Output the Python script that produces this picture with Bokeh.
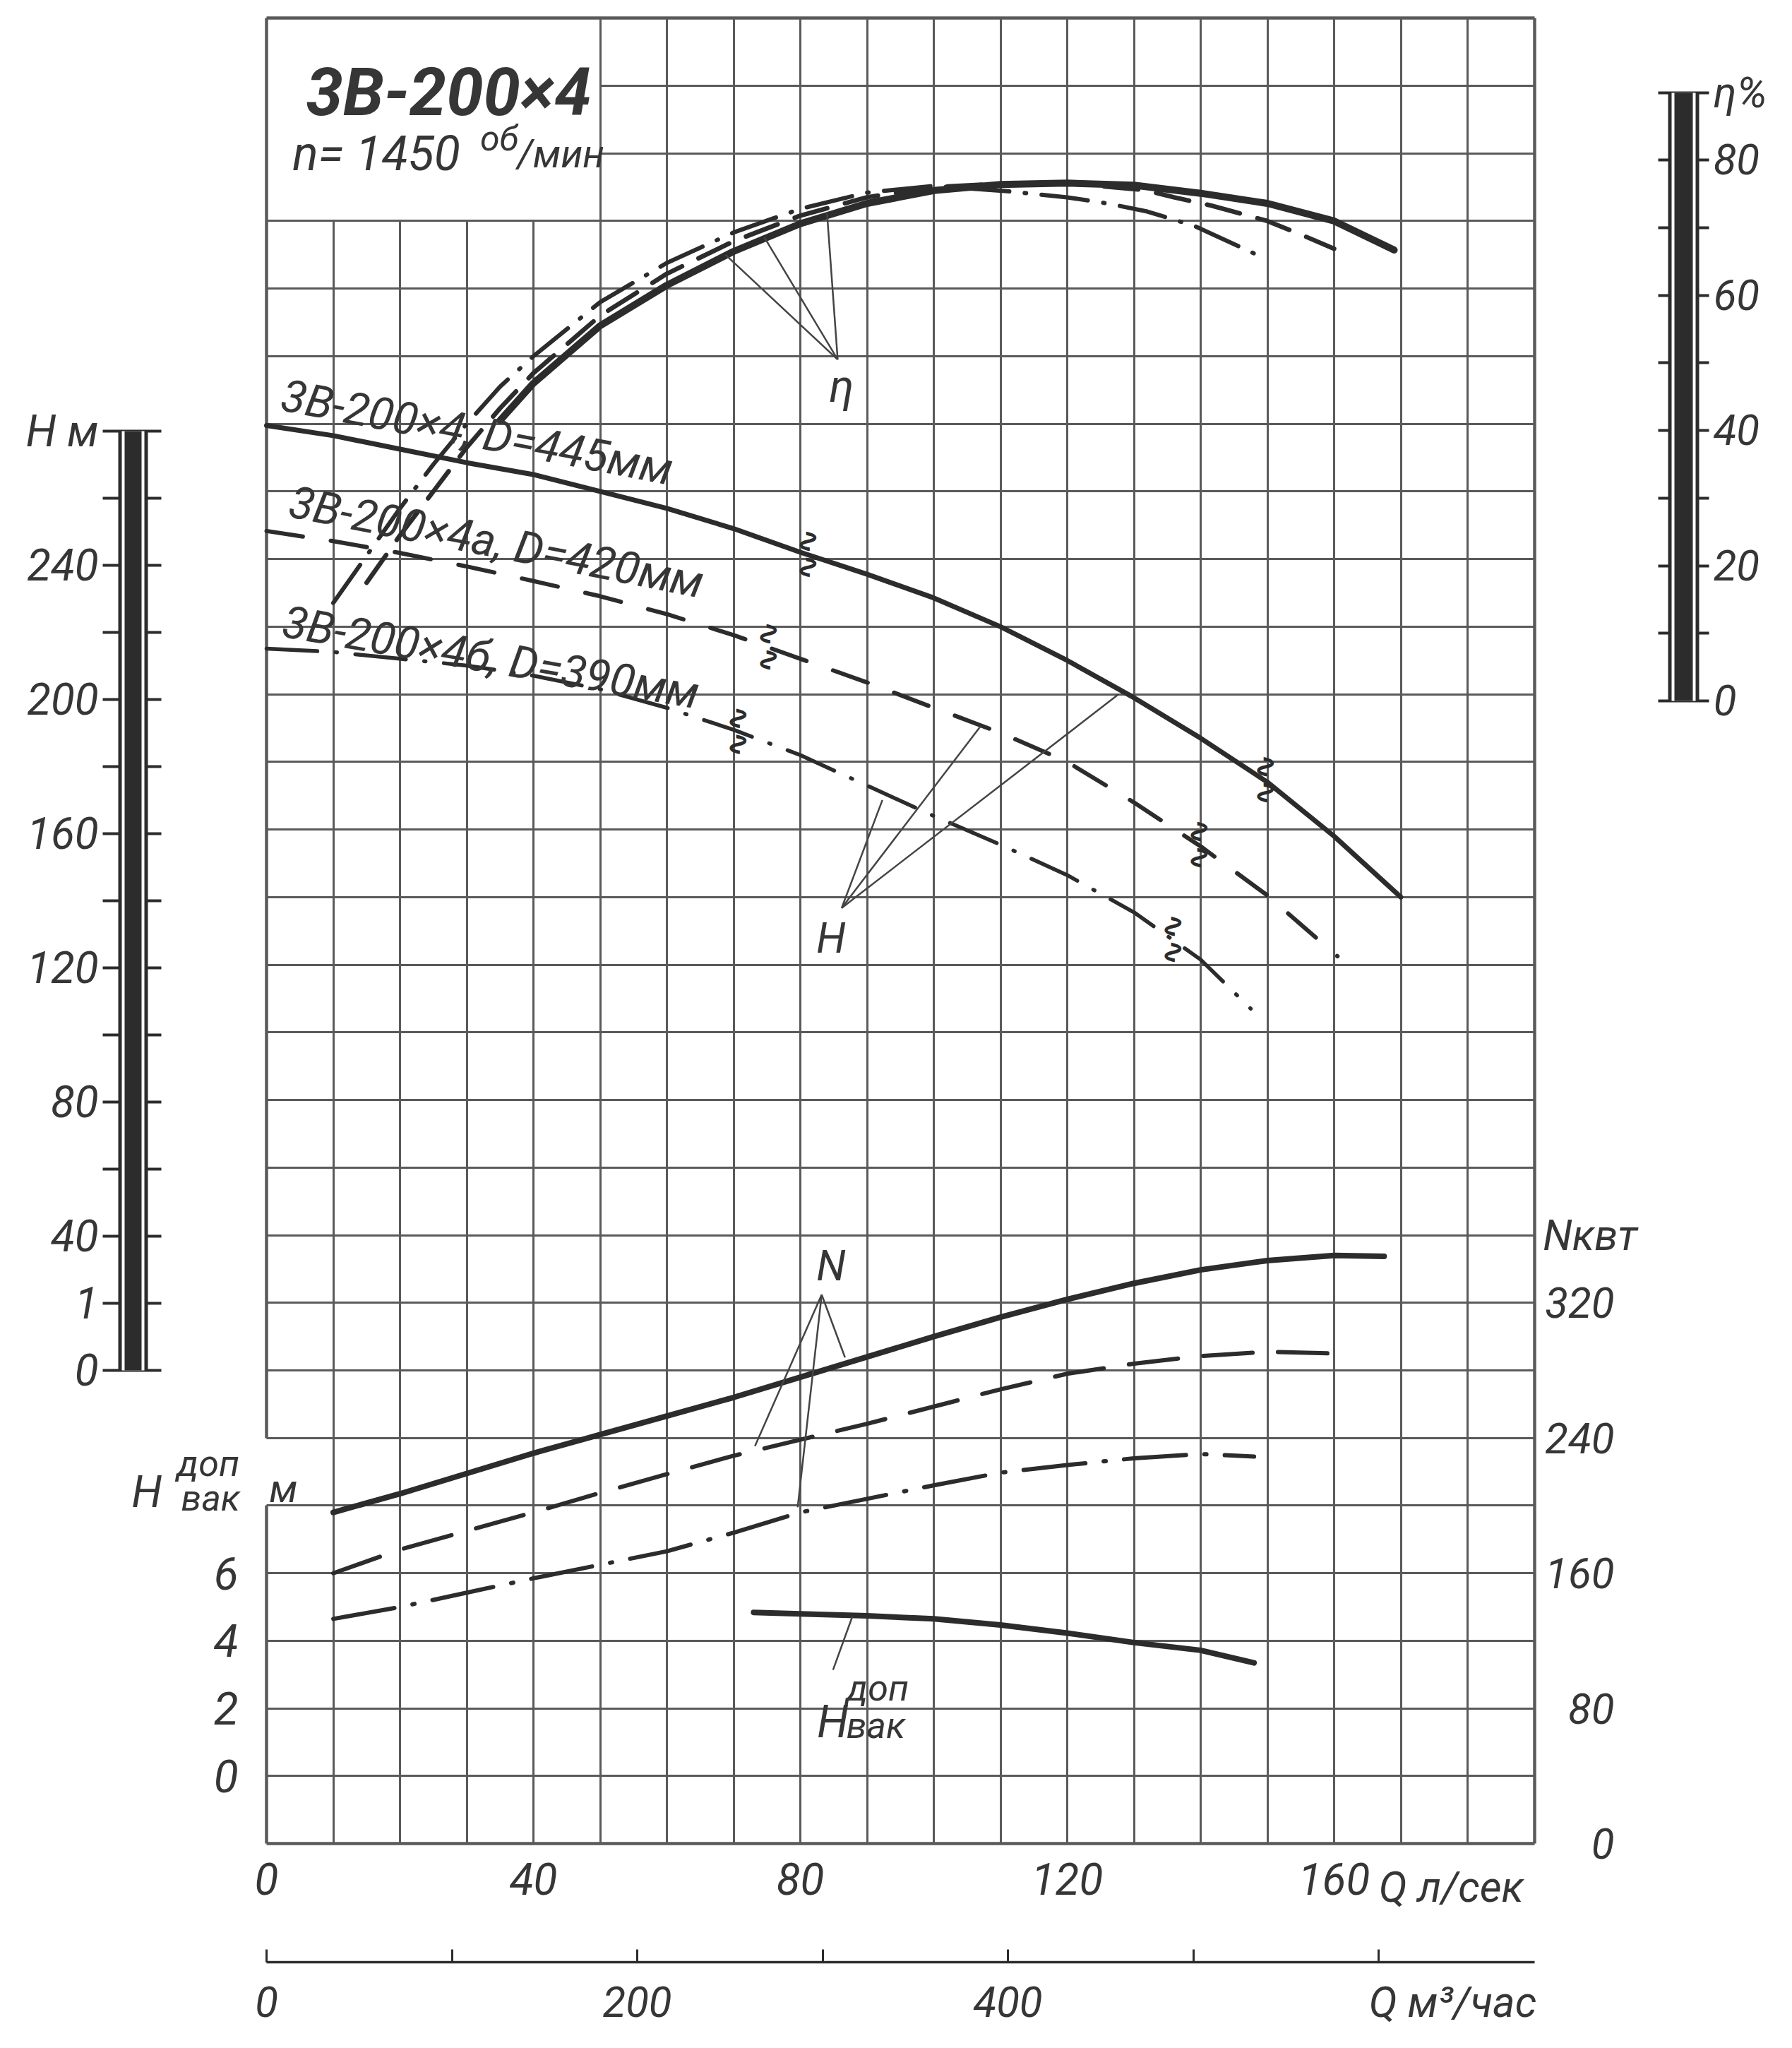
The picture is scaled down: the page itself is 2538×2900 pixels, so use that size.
import math
from bokeh.plotting import figure
from bokeh.models import Range1d, LinearAxis, FixedTicker, Grid
from bokeh.core.properties import value
from bokeh.embed import file_html
from bokeh.resources import INLINE

# ---------------- data ----------------
# Head H (m) vs Q (l/s) for three impellers
Q_H445 = [0, 10, 20, 30, 40, 50, 60, 70, 80, 90, 100, 110, 120, 130, 140, 150, 160, 170]
H_445 = [279.5, 276.5, 272.5, 268.5, 265, 260, 255, 249, 242, 235.5, 228.5, 220, 210, 199, 187, 174, 158, 140]
Q_H420 = [0, 10, 20, 30, 40, 50, 60, 70, 80, 90, 100, 110, 120, 130, 140, 150, 160.5]
H_420 = [248.3, 245.3, 241.8, 237.8, 233.5, 229, 223.7, 217.5, 210.5, 203.5, 196, 188.6, 180, 168, 155, 140.5, 122.5]
Q_H390 = [0, 10, 20, 30, 40, 50, 60, 70, 80, 90, 100, 110, 120, 130, 140, 147.5]
H_390 = [213.5, 212.5, 210.5, 208.5, 205.5, 201.5, 196, 189.5, 182, 173, 164, 155.5, 146.5, 135.5, 121.5, 107]

# Efficiency eta (%)
Q_E445 = [35, 40, 50, 60, 70, 80, 90, 100, 110, 120, 130, 140, 150, 160, 169]
E_445 = [41.5, 47, 55.5, 61.5, 66.5, 70.6, 73.6, 75.5, 76.4, 76.6, 76.3, 75.1, 73.6, 71.0, 66.7]
Q_E420 = [15, 20, 25, 30, 35, 40, 50, 60, 70, 80, 90, 100, 110, 120, 131.5, 136, 141.5, 150, 155, 160]
E_420 = [17.5, 24.5, 31, 37.5, 43.3, 48.5, 57, 63.2, 68, 71.8, 74.5, 76, 76.5, 76.6, 75.6, 74.5, 73.3, 71, 69, 66.9]
Q_E390 = [10, 15, 20, 25, 30, 35, 40, 50, 60, 70, 80, 90, 100, 111, 120, 126, 132, 139, 148]
E_390 = [14.5, 21.5, 28.5, 35, 41, 46.5, 51, 59, 64.8, 69.3, 72.8, 75.2, 76.2, 75.4, 74.5, 73.6, 72.4, 70.3, 66.2]

# Power N (kW)
Q_N445 = [10, 20, 30, 40, 50, 60, 70, 80, 90, 100, 110, 120, 130, 140, 150, 160, 167.5]
N_445 = [196, 207, 219, 231, 242, 253, 264, 276, 288, 300, 311.5, 322, 331.5, 339.5, 345, 348, 347.5]
Q_N420 = [10, 20, 30, 40, 50, 60, 70, 80, 90, 100, 110, 120, 130, 140, 150, 160]
N_420 = [160, 174, 185, 196, 207.5, 218.6, 229.5, 239, 248.4, 258.6, 268.8, 278, 284, 288.5, 291, 290]
Q_N390 = [10, 20, 30, 40, 50, 60, 70, 80, 90, 100, 110, 120, 130, 140, 148]
N_390 = [133, 140, 148.5, 157, 165, 173, 184, 196, 204, 212, 219.5, 224, 228, 230.5, 229]

# Allowable suction lift H_vak (m)
Q_HV = [73, 80, 90, 100, 110, 120, 130, 140, 148]
HV = [4.84, 4.8, 4.74, 4.65, 4.47, 4.23, 3.95, 3.72, 3.35]

# operating-range marks on the H curves (Q, H)
SQ_Q = [80.9, 149.5, 75.0, 139.6, 70.5, 135.7]
SQ_H = [241.4, 174.7, 214.0, 155.5, 189.0, 127.5]

# leader lines: apex and targets
ETA_APEX = (85.6, 50.5)
ETA_END_Q = [68.8, 74.6, 84.0]
ETA_END = [66.0, 68.6, 72.2]
H_APEX = (86.2, 136.8)
H_END_Q = [127.7, 107.0, 92.3]
H_END = [200.0, 190.5, 168.7]
N_APEX = (83.2, 324.8)
N_END_Q = [86.7, 73.2, 79.6]
N_END = [287.6, 235.2, 199.0]
HV_LEAD_Q = [84.9, 87.8]
HV_LEAD = [3.14, 4.72]

# ticks / labels
H_TICKS = [0, 20, 40, 80, 120, 160, 200, 240, 280]
H_MINOR = [60, 100, 140, 180, 220, 260]
H_LABELS = {20: "1", 280: "H м"}
ETA_TICKS = [0, 20, 40, 60, 80, 90]
ETA_MINOR = [10, 30, 50, 70]
ETA_LABELS = {90: "η%"}
HV_TICKS = [0, 2, 4, 6]
N_TICKS = [0, 80, 160, 240, 320]
Q_TICKS = [0, 40, 80, 120, 160]
M3_TICKS = [0, 200, 400, 640]
M3_MINOR = [0, 100, 200, 300, 400, 500, 600]
M3_LABELS = {640: "Q м³/час"}

CURVE_LABELS = ["3В-200×4, D=445мм", "3В-200×4а, D=420мм", "3В-200×4б, D=390мм"]

# ---------------- layout constants ----------------
W, HT = 2516, 2880
PX_Q, Q0_PX = 9.45, 385.0
PX_H, H0_PX = 4.787, 1948.0
X0 = (8 - Q0_PX) / PX_Q
X1 = X0 + W / PX_Q
Y1 = (H0_PX - 8) / PX_H
Y0 = Y1 - HT / PX_H
ETA0 = 198.0     # H level of eta = 0 on the efficiency scale
HBAR_K = 0.992   # printed head scale is slightly compressed against the grid

INK = "#2c2c2c"
GRID_C = "#5a5a5a"
TXT = "#363636"
FONT = "Roboto"

p = figure(width=W, height=HT, x_range=Range1d(X0, X1), y_range=Range1d(Y0, Y1),
           x_axis_location=None, y_axis_location=None, toolbar_location=None,
           output_backend="svg", min_border=0)
p.title.visible = False
p.grid.visible = False
p.outline_line_color = None
p.background_fill_color = "white"
p.border_fill_color = "white"
p.min_border_left = p.min_border_right = p.min_border_top = p.min_border_bottom = 0

p.extra_y_ranges = {
    "hbar": Range1d(Y0 / HBAR_K, Y1 / HBAR_K),
    "eta": Range1d((Y0 - ETA0) / 2, (Y1 - ETA0) / 2),
    "hvak": Range1d((Y0 + 120) / 10, (Y1 + 120) / 10),
    "N": Range1d((Y0 + 140) * 2, (Y1 + 140) * 2),
}
p.extra_x_ranges = {"m3h": Range1d(X0 * 3.6, X1 * 3.6)}

# ---------------- grid ----------------
def add_grid(dim, ticks, cross, width):
    g = Grid(dimension=dim, ticker=FixedTicker(ticks=ticks), cross_bounds=cross,
             grid_line_color=GRID_C, grid_line_width=width)
    p.add_layout(g, "center")

add_grid(0, [10, 20, 30, 40], (-140, 340), 3)
add_grid(0, list(range(50, 190, 10)), (-140, 400), 3)
add_grid(0, [190], (-140, 400), 4.5)
add_grid(0, [0], (-20, 400), 4.5)
add_grid(0, [0], (-140, -40), 4.5)
add_grid(1, list(range(-120, 341, 20)), (0, 190), 3)
add_grid(1, [360, 380], (50, 190), 3)
add_grid(1, [-140, 400], (0, 190), 4.5)

# ---------------- axes ----------------
lab = dict(major_label_text_font=FONT, major_label_text_font_style="italic",
           major_label_text_color=TXT)

def bar_axis(side, loc, bounds, rng, ticks, minor, labels, outer, tin, tout, standoff, size):
    a = LinearAxis(y_range_name=rng, fixed_location=loc, bounds=bounds,
                   ticker=FixedTicker(ticks=ticks, minor_ticks=minor),
                   major_label_overrides=labels,
                   axis_line_width=outer, axis_line_color=INK,
                   major_tick_in=tin, major_tick_out=tout, minor_tick_in=tin, minor_tick_out=tout,
                   major_tick_line_width=4, minor_tick_line_width=4,
                   major_tick_line_color=INK, minor_tick_line_color=INK,
                   major_label_standoff=standoff, major_label_text_font_size=size, **lab)
    p.add_layout(a, side)
    for w, c in ((outer - 10, "white"), (outer - 18, INK)):
        b = LinearAxis(y_range_name=rng, fixed_location=loc, bounds=bounds,
                       ticker=FixedTicker(ticks=[]), axis_line_width=w, axis_line_color=c,
                       major_tick_line_color=None, minor_tick_line_color=None)
        p.add_layout(b, side)

# H scale (left bar)
bar_axis("left", -20, (0, 280), "hbar", H_TICKS, H_MINOR, H_LABELS, 42, 40, 43, 6, "62px")
# eta scale (right bar)
bar_axis("right", 212.4, (0, 90), "eta", ETA_TICKS, ETA_MINOR, ETA_LABELS, 44, 36, 36, 6, "60px")

# H_vak scale
p.add_layout(LinearAxis(y_range_name="hvak", fixed_location=0, ticker=FixedTicker(ticks=HV_TICKS),
                        axis_line_color=None, major_tick_in=0, major_tick_out=0,
                        minor_tick_line_color=None, major_label_standoff=40,
                        major_label_text_font_size="64px", **lab), "left")
# N scale (labels right-aligned)
p.add_layout(LinearAxis(y_range_name="N", fixed_location=202.0, ticker=FixedTicker(ticks=N_TICKS),
                        axis_line_color=None, major_tick_in=0, major_tick_out=0,
                        minor_tick_line_color=None, major_label_standoff=0,
                        major_label_text_font_size="60px", **lab), "left")
# Q l/s
p.add_layout(LinearAxis(fixed_location=-140, ticker=FixedTicker(ticks=Q_TICKS),
                        axis_line_color=None,
                        major_tick_in=0, major_tick_out=0, minor_tick_line_color=None,
                        major_label_standoff=27, major_label_text_font_size="62px", **lab), "below")
# Q m3/h
p.add_layout(LinearAxis(x_range_name="m3h", fixed_location=-175.0, bounds=(0, 684),
                        ticker=FixedTicker(ticks=M3_TICKS, minor_ticks=M3_MINOR),
                        major_label_overrides=M3_LABELS, axis_line_color=INK, axis_line_width=3.5,
                        major_tick_in=0, major_tick_out=0, minor_tick_in=18, minor_tick_out=0,
                        minor_tick_line_color=INK, minor_tick_line_width=3,
                        major_label_standoff=22, major_label_text_font_size="60px", **lab), "below")

# ---------------- curves ----------------
p.line(Q_H445, H_445, line_color=INK, line_width=7, line_cap="round")
p.line(Q_H420, H_420, line_color=INK, line_width=6, line_dash="52 40", line_cap="round")
p.line(Q_H390, H_390, line_color=INK, line_width=5.5, line_dash="72 26 2 26", line_cap="round")

p.line(Q_E445, E_445, y_range_name="eta", line_color=INK, line_width=10, line_cap="round")
p.line(Q_E420, E_420, y_range_name="eta", line_color=INK, line_width=6.5, line_dash="48 26", line_cap="round")
p.line(Q_E390, E_390, y_range_name="eta", line_color=INK, line_width=6, line_dash="66 22 2 22", line_cap="round")

p.line(Q_N445, N_445, y_range_name="N", line_color=INK, line_width=8, line_cap="round")
p.line(Q_N420, N_420, y_range_name="N", line_color=INK, line_width=6, line_dash="70 36", line_cap="round")
p.line(Q_N390, N_390, y_range_name="N", line_color=INK, line_width=6, line_dash="88 26 3 26", line_cap="round")

p.line(Q_HV, HV, y_range_name="hvak", line_color=INK, line_width=8, line_cap="round")

# leader lines
p.multi_line([[ETA_APEX[0], q] for q in ETA_END_Q], [[ETA_APEX[1], e] for e in ETA_END],
             y_range_name="eta", line_color="#444444", line_width=2.5)
p.multi_line([[H_APEX[0], q] for q in H_END_Q], [[H_APEX[1], h] for h in H_END],
             line_color="#444444", line_width=2.5)
p.multi_line([[N_APEX[0], q] for q in N_END_Q], [[N_APEX[1], n] for n in N_END],
             y_range_name="N", line_color="#444444", line_width=2.5)
p.line(HV_LEAD_Q, HV_LEAD, y_range_name="hvak", line_color="#444444", line_width=2.5)

# ---------------- texts ----------------
def txt(x, y, s, size, align="left", baseline="alphabetic", angle=0.0, rng="default",
        font=FONT, style="italic"):
    p.text(x=x, y=y, text=s, angle=angle, text_align=align, text_baseline=baseline,
           text_font=value(font), text_font_size=value(f"{size}px"), text_font_style=style,
           text_color=TXT, y_range_name=rng)

# squiggle marks
p.text(x=SQ_Q, y=SQ_H, text=["∿∿"] * len(SQ_Q), angle=math.pi / 2, text_align="center",
       text_baseline="middle", text_font=value("DejaVu Sans"), text_font_size=value("44px"),
       text_font_style="bold", text_color=INK)

# title block
txt([27.3], [378.0], ["3В-200×4"], 94, align="center", style="bold italic")
txt([3.9], [359.9], ["n= 1450"], 68)
txt([32.0], [364.4], ["об"], 50)
txt([37.6], [359.9], ["/мин"], 55)

# curve names along the H curves
txt([2.3, 3.5, 2.5], [288.5, 257.0, 221.5], CURVE_LABELS, 64,
    angle=[-0.19, -0.195, -0.172])

# curve family letters
txt([86.2], [46.5], ["η"], 64, align="center", baseline="middle", rng="eta")
txt([84.6], [127.8], ["H"], 60, align="center", baseline="middle")
txt([84.6], [342.0], ["N"], 60, align="center", baseline="middle", rng="N")

# H_vak labels
txt([82.5], [1.6], ["H"], 64, rng="hvak")
txt([86.9], [2.6], ["доп"], 52, rng="hvak")
txt([86.9], [1.5], ["вак"], 52, rng="hvak")
txt([-20.2], [-36.0], ["H"], 62)
txt([-13.4], [-27.5], ["доп"], 52)
txt([-12.8], [-37.8], ["вак"], 52)
txt([0.4], [-35.0], ["м"], 56)

# Q l/s unit and N unit
txt([166.7], [-153.0], ["Q л/сек"], 60, baseline="middle")
txt([191.3], [360], ["Nквт"], 60, baseline="middle", rng="N")

open("out.html", "w").write(file_html(p, INLINE))
